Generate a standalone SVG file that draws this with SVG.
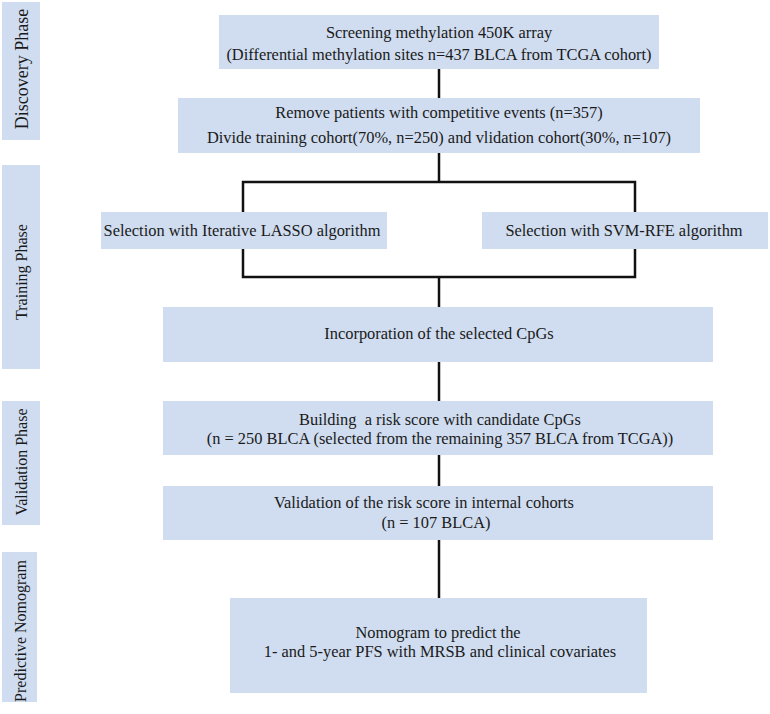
<svg xmlns="http://www.w3.org/2000/svg" width="770" height="714" viewBox="0 0 770 714">
<style>
.box{fill:#d0ddf0}
.t{font-family:"Liberation Serif","Times New Roman",serif;font-size:16.4px;fill:#1a1a1a;text-anchor:middle}
.p{font-family:"Liberation Serif","Times New Roman",serif;font-size:16px;fill:#1a1a1a;text-anchor:middle}
.c{stroke:#111;stroke-width:2.5;fill:none}
</style>
<rect width="770" height="714" fill="#ffffff"/>
<g id="phase-discovery"><rect class="box" x="2" y="2" width="38" height="138"/><text class="p" style="font-size:18px" transform="translate(28,69) rotate(-90)">Discovery Phase</text></g>
<g id="phase-training"><rect class="box" x="2" y="165" width="38" height="204"/><text class="p" transform="translate(27,272) rotate(-90)">Training Phase</text></g>
<g id="phase-validation"><rect class="box" x="2" y="401" width="38" height="124"/><text class="p" transform="translate(27,462) rotate(-90)">Validation Phase</text></g>
<g id="phase-nomogram"><rect class="box" x="2" y="552" width="35" height="150"/><text class="p" transform="translate(26,631) rotate(-90)">Predictive Nomogram</text></g>
<g id="connectors">
<line class="c" x1="439" y1="69" x2="439" y2="98"/>
<line class="c" x1="439" y1="153" x2="439" y2="182"/>
<polyline class="c" points="243,212 243,182 635,182 635,212"/>
<polyline class="c" points="243,249 243,277 635,277 635,249"/>
<line class="c" x1="439" y1="277" x2="439" y2="307"/>
<line class="c" x1="439" y1="362" x2="439" y2="401"/>
<line class="c" x1="439" y1="455" x2="439" y2="486"/>
<line class="c" x1="439" y1="540" x2="439" y2="598"/>
</g>
<g id="n1"><rect class="box" x="219" y="15" width="440" height="54"/><text class="t" x="439" y="38">Screening methylation 450K array</text><text class="t" x="439" y="60">(Differential methylation sites n=437 BLCA from TCGA cohort)</text></g>
<g id="n2"><rect class="box" x="178" y="98" width="522" height="55"/><text class="t" x="439" y="118">Remove patients with competitive events (n=357)</text><text class="t" x="439" y="143">Divide training cohort(70%, n=250) and vlidation cohort(30%, n=107)</text></g>
<g id="n3"><rect class="box" x="101" y="212" width="286" height="37"/><text class="t" x="242" y="236">Selection with Iterative LASSO algorithm</text></g>
<g id="n4"><rect class="box" x="482" y="212" width="286" height="37"/><text class="t" x="624" y="236">Selection with SVM-RFE algorithm</text></g>
<g id="n5"><rect class="box" x="163" y="307" width="550" height="55"/><text class="t" x="439" y="339">Incorporation of the selected CpGs</text></g>
<g id="n6"><rect class="box" x="163" y="401" width="550" height="54"/><text class="t" x="440" y="425" xml:space="preserve">Building  a risk score with candidate CpGs</text><text class="t" x="440" y="444">(n = 250 BLCA (selected from the remaining 357 BLCA from TCGA))</text></g>
<g id="n7"><rect class="box" x="163" y="486" width="550" height="54"/><text class="t" x="424" y="508">Validation of the risk score in internal cohorts</text><text class="t" x="436" y="528">(n = 107 BLCA)</text></g>
<g id="n8"><rect class="box" x="230" y="598" width="417" height="95"/><text class="t" x="438" y="638">Nomogram to predict the</text><text class="t" x="440" y="657">1- and 5-year PFS with MRSB and clinical covariates</text></g>
</svg>
